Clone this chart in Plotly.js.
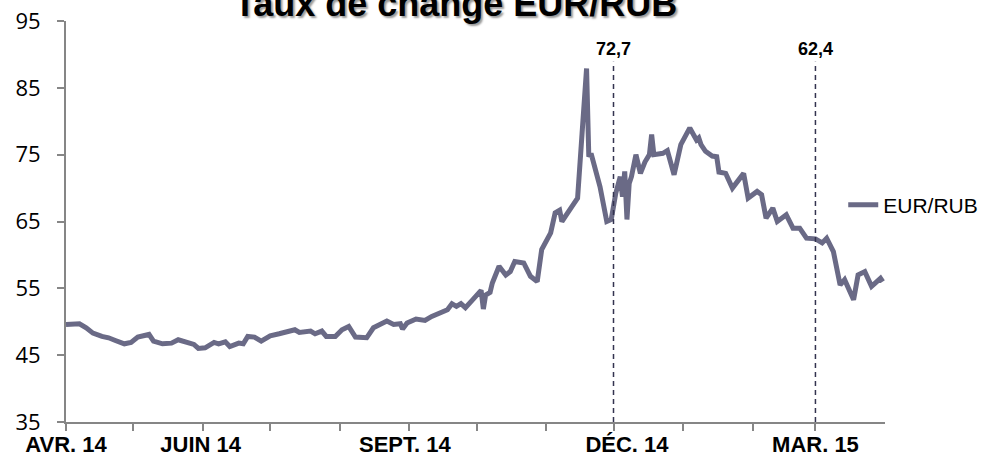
<!DOCTYPE html>
<html>
<head>
<meta charset="utf-8">
<script src="https://cdn.plot.ly/plotly-3.0.1.min.js"></script>
<style>html,body{margin:0;padding:0;background:#fff;}#chart{width:984px;height:458px;}</style>
</head>
<body>
<div id="chart"></div>
<script>
var titleText = 'Taux de change EUR/RUB';
var seriesName = 'EUR/RUB';

var dates = [
'2014-04-01','2014-04-07','2014-04-10','2014-04-12','2014-04-13','2014-04-17','2014-04-20','2014-04-23','2014-04-27','2014-04-30',
'2014-05-03','2014-05-08','2014-05-10','2014-05-14','2014-05-18','2014-05-21','2014-05-25','2014-05-28','2014-05-30',
'2014-06-02','2014-06-06','2014-06-08','2014-06-11','2014-06-13','2014-06-17','2014-06-19','2014-06-21','2014-06-24','2014-06-27','2014-06-30',
'2014-07-01','2014-07-05','2014-07-12','2014-07-14','2014-07-19','2014-07-21','2014-07-24','2014-07-26','2014-07-30',
'2014-08-02','2014-08-05','2014-08-08','2014-08-13','2014-08-16','2014-08-22','2014-08-25','2014-08-28','2014-08-29','2014-08-31',
'2014-09-04','2014-09-08','2014-09-11','2014-09-15','2014-09-18','2014-09-20','2014-09-22','2014-09-24','2014-09-26','2014-09-29',
'2014-10-01','2014-10-03','2014-10-04','2014-10-05','2014-10-07','2014-10-08','2014-10-11','2014-10-14','2014-10-16','2014-10-18','2014-10-22','2014-10-25','2014-10-28','2014-10-30',
'2014-11-03','2014-11-05','2014-11-07','2014-11-08','2014-11-12','2014-11-15','2014-11-17','2014-11-19','2014-11-20','2014-11-21','2014-11-25','2014-11-28','2014-11-30',
'2014-12-02','2014-12-04','2014-12-05','2014-12-06','2014-12-07','2014-12-08','2014-12-09','2014-12-11','2014-12-13','2014-12-15','2014-12-17','2014-12-18','2014-12-19','2014-12-23','2014-12-25','2014-12-28','2014-12-31',
'2015-01-04','2015-01-07','2015-01-08','2015-01-09','2015-01-11','2015-01-14','2015-01-16','2015-01-17','2015-01-20','2015-01-23','2015-01-28','2015-01-30',
'2015-02-03','2015-02-05','2015-02-07','2015-02-10','2015-02-12','2015-02-16','2015-02-19','2015-02-22','2015-02-25',
'2015-03-01','2015-03-04','2015-03-06','2015-03-09','2015-03-12','2015-03-14','2015-03-18','2015-03-20','2015-03-23','2015-03-26','2015-03-30','2015-03-31'
];

var eurRub = [
49.6,49.7,49.1,48.5,48.3,47.8,47.6,47.2,46.7,46.9,
47.7,48.1,47.1,46.7,46.8,47.3,47.0,46.6,46.0,
46.1,46.9,46.7,47.0,46.3,46.8,46.7,47.8,47.7,47.1,47.7,
47.9,48.2,48.8,48.4,48.6,48.2,48.6,47.8,47.8,
48.8,49.3,47.7,47.6,49.1,50.1,49.6,49.7,48.9,49.8,
50.4,50.2,50.8,51.4,51.8,52.7,52.3,52.7,52.1,53.2,
53.9,54.7,51.9,54.0,54.4,55.8,58.3,57.0,57.5,59.0,58.8,56.8,56.0,60.8,
63.3,66.3,66.7,65.0,67.0,68.5,78.2,87.9,74.7,75.2,70.2,65.0,65.3,
69.2,71.7,68.7,72.5,65.3,70.7,71.7,75.0,72.2,73.9,75.0,78.0,75.0,75.2,75.6,72.0,76.5,
79.0,77.2,77.5,76.5,75.5,74.8,74.7,72.4,72.2,70.0,72.2,68.5,
69.5,69.0,65.5,67.0,65.0,66.0,64.0,64.0,62.5,
62.4,61.8,62.5,60.5,55.5,56.3,53.3,57.0,57.5,55.3,56.5,56.0
];

// month tick marks
var monthTicks = ['2014-04-01','2014-05-01','2014-06-01','2014-07-01','2014-08-01','2014-09-01','2014-10-01','2014-11-01','2014-12-01','2015-01-01','2015-02-01','2015-03-01'];
// label positions and texts
var labelDates = ['2014-04-01','2014-05-31','2014-08-30','2014-12-07','2015-03-01'];
var labelTexts = ['AVR. 14','JUIN 14','SEPT. 14','DÉC. 14','MAR. 15'];

var yTicks = [35,45,55,65,75,85,95];

// reference markers (dashed lines)
var markerDates = ['2014-12-01','2015-03-01'];
var markerLabels = ['72,7','62,4'];
var markerTop = 88.9;
var yMin = 35, yMax = 95;

var lineColor = '#6a6a86';
var axisColor = '#868686';
var dashColor = '#33334f';

var shapes = [], annotations = [];
for (var i = 0; i < markerDates.length; i++) {
  shapes.push({type:'line', xref:'x', yref:'y', x0:markerDates[i], x1:markerDates[i], y0:yMin, y1:markerTop,
    line:{color:dashColor, width:1.5, dash:'5px,4px'}});
  annotations.push({xref:'x', yref:'y', x:markerDates[i], y:markerTop, yanchor:'bottom', xanchor:'center', yshift:1,
    text:'<b>'+markerLabels[i]+'</b>', showarrow:false,
    font:{family:'Arial, Liberation Sans, sans-serif', size:18, color:'#000'}});
}

var trace = {
  x: dates, y: eurRub, type:'scatter', mode:'lines', name: seriesName,
  line:{color:lineColor, width:5}
};

var layout = {
  width:984, height:458,
  margin:{l:66, r:99, t:21, b:36, autoexpand:false},
  paper_bgcolor:'#fff', plot_bgcolor:'#fff',
  title:{text:'<b>'+titleText+'</b>', xref:'container', yref:'container', x:0.463, xanchor:'center', y:0.966, yanchor:'bottom',
    font:{family:'Arial, Liberation Sans, sans-serif', size:36, color:'#000', shadow:'2px 2px 2px #9a9a9a'}},
  showlegend:true,
  legend:{x:0.949, y:0.541, xanchor:'left', yanchor:'middle', bgcolor:'rgba(0,0,0,0)',
    font:{family:'Arial, Liberation Sans, sans-serif', size:21, color:'#000'}},
  xaxis:{type:'date', range:['2014-04-01','2015-04-01'], showgrid:false, zeroline:false,
    showline:true, linecolor:axisColor, linewidth:2,
    tickmode:'array', tickvals:labelDates, ticktext:labelTexts, ticks:'', ticklabelstandoff:2,
    tickfont:{family:'Arial, Liberation Sans, sans-serif', size:22, color:'#000', weight:'bold'},
    minor:{tickmode:'array', tickvals:monthTicks, ticks:'outside', ticklen:7, tickwidth:2, tickcolor:axisColor, showgrid:false},
    fixedrange:true},
  yaxis:{range:[yMin,yMax], tickmode:'array', tickvals:yTicks, showgrid:false, zeroline:false,
    showline:true, linecolor:axisColor, linewidth:2, ticks:'outside', ticklen:7, tickwidth:2, tickcolor:axisColor,
    ticklabelstandoff:12,
    tickfont:{family:'Open Sans, sans-serif', size:22, color:'#000'}, fixedrange:true},
  shapes:shapes, annotations:annotations
};

Plotly.newPlot('chart', [trace], layout, {displayModeBar:false, staticPlot:true});
</script>
</body>
</html>
